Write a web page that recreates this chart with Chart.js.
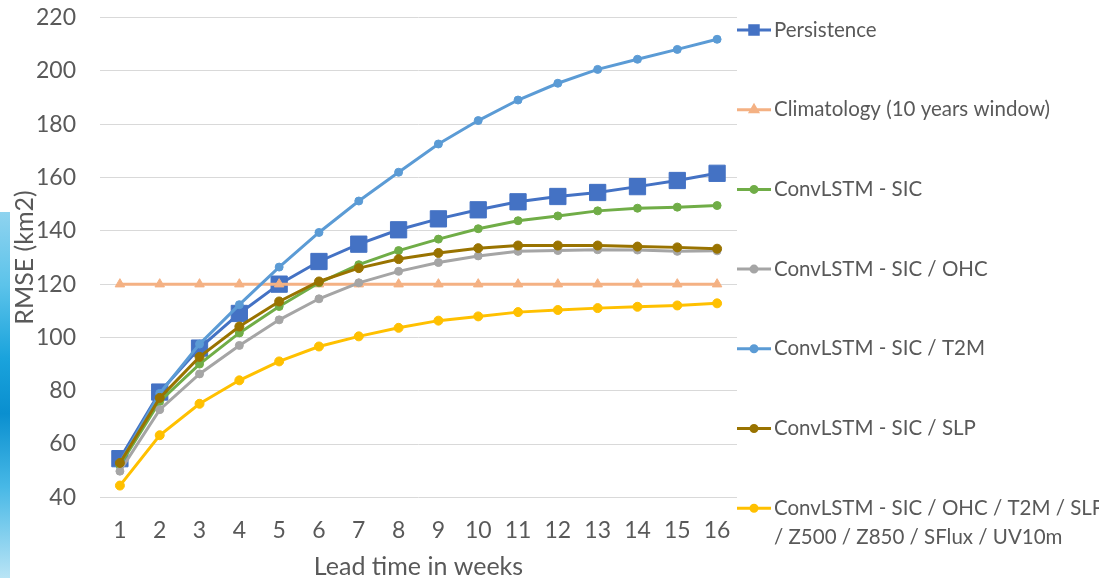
<!DOCTYPE html>
<html>
<head>
<meta charset="utf-8">
<script src="https://cdn.jsdelivr.net/npm/chart.js@4.4.0/dist/chart.umd.min.js"></script>
<style>
  html, body { margin: 0; padding: 0; background: #fff; }
  #wrap { position: relative; width: 1099px; height: 578px; overflow: hidden; }
  #strip {
    position: absolute; left: 0; top: 212px; width: 10px; height: 366px;
    background: linear-gradient(to bottom, #8fd3ef 0%, #5cc3ea 20%, #1aa3dc 40%, #0a8fcf 55%, #47b8e6 75%, #b9e4f5 100%);
  }
  canvas { position: absolute; left: 0; top: 0; }
</style>
</head>
<body>
<div id="wrap">
  <div id="strip"></div>
  <canvas id="rmseChart" width="1099" height="578"></canvas>
</div>
<script>
  // Datos
  const weeks = ['1', '2', '3', '4', '5', '6', '7', '8', '9', '10', '11', '12', '13', '14', '15', '16'];
  const yTicks = [40, 60, 80, 100, 120, 140, 160, 180, 200, 220];

  const persistence = [54.5, 79.5, 96, 109, 120, 128.5, 135, 140.4, 144.5, 147.9, 150.9, 152.9, 154.4, 156.6, 158.9, 161.6];
  const climatology = [120, 120, 120, 120, 120, 120, 120, 120, 120, 120, 120, 120, 120, 120, 120, 120];
  const sic = [52, 76, 90, 101.7, 111.6, 120.5, 127.3, 132.6, 136.9, 140.8, 143.8, 145.6, 147.5, 148.5, 148.9, 149.5];
  const sicOhc = [49.8, 72.9, 86.3, 97, 106.6, 114.5, 120.5, 124.8, 128.1, 130.6, 132.3, 132.6, 132.9, 132.8, 132.3, 132.5];
  const sicT2m = [53, 79, 97.5, 112.3, 126.4, 139.4, 151.2, 162, 172.6, 181.4, 189.1, 195.4, 200.6, 204.4, 208.1, 211.9];
  const sicSlp = [52.9, 77.3, 92.7, 104.1, 113.5, 121, 126, 129.4, 131.7, 133.5, 134.5, 134.5, 134.5, 134.1, 133.8, 133.3];
  const sicAll = [44.4, 63.3, 75.1, 83.9, 91, 96.6, 100.4, 103.6, 106.3, 107.9, 109.5, 110.3, 111, 111.5, 112, 112.8];

  const FONT = 'Lato, "Open Sans", sans-serif';
  const TEXT = '#595959';

  function serie(label, data, color, pointStyle, radius, order) {
    return {
      label: label,
      data: data,
      borderColor: color,
      backgroundColor: color,
      borderWidth: 3,
      pointStyle: pointStyle,
      pointRadius: radius,
      pointHoverRadius: radius,
      pointBorderWidth: 1,
      tension: 0,
      order: order
    };
  }

  // Leyenda a la derecha, dibujada a mano
  const rightLegend = {
    id: 'rightLegend',
    afterDraw(chart) {
      const ctx = chart.ctx;
      const x0 = chart.chartArea.right;
      ctx.save();
      ctx.font = '20.5px ' + FONT;
      ctx.fillStyle = TEXT;
      ctx.textBaseline = 'middle';
      chart.data.datasets.forEach((ds, i) => {
        const y = 30 + i * 79.7;
        ctx.strokeStyle = ds.borderColor;
        ctx.lineWidth = 3;
        ctx.beginPath();
        ctx.moveTo(x0, y);
        ctx.lineTo(x0 + 34, y);
        ctx.stroke();
        ctx.fillStyle = ds.borderColor;
        const r = ds.pointStyle === 'rect' ? 6 : (ds.pointStyle === 'triangle' ? 4 : 3);
        Chart.helpers.drawPoint(ctx, { pointStyle: ds.pointStyle, radius: r, rotation: 0, borderWidth: 1 }, x0 + 17, y);
        ctx.fillStyle = TEXT;
        ds.label.split('\n').forEach((line, k) => {
          ctx.fillText(line, x0 + 37, y + k * 29);
        });
      });
      ctx.restore();
    }
  };

  const ctx = document.getElementById('rmseChart').getContext('2d');
  new Chart(ctx, {
    type: 'line',
    data: {
      labels: weeks,
      datasets: [
        serie('Persistence', persistence, '#4472c4', 'rect', 11.5, 0),
        serie('Climatology (10 years window)', climatology, '#f4b183', 'triangle', 5.5, -1),
        serie('ConvLSTM - SIC', sic, '#70ad47', 'circle', 4, -2),
        serie('ConvLSTM - SIC / OHC', sicOhc, '#a5a5a5', 'circle', 4, -3),
        serie('ConvLSTM - SIC / T2M', sicT2m, '#5b9bd5', 'circle', 4, -4),
        serie('ConvLSTM - SIC / SLP', sicSlp, '#997300', 'circle', 4.5, -5),
        serie('ConvLSTM - SIC / OHC / T2M / SLP\n/ Z500 / Z850 / SFlux / UV10m', sicAll, '#ffc000', 'circle', 4.5, -6)
      ]
    },
    options: {
      responsive: false,
      animation: false,
      layout: { padding: { top: 17.7, right: 362, bottom: 0, left: 0 } },
      plugins: {
        legend: { display: false },
        tooltip: { enabled: false }
      },
      scales: {
        x: {
          offset: true,
          grid: { display: false },
          border: { display: false },
          ticks: { color: TEXT, font: { family: FONT, size: 23 }, padding: 11, maxRotation: 0 },
          title: { display: true, text: 'Lead time in weeks', color: TEXT, font: { family: FONT, size: 25 }, padding: { top: 0, bottom: -4 } },
          afterFit(scale) { scale.height = 80.7; scale.paddingLeft = 0; scale.paddingRight = 0; }
        },
        y: {
          min: 40,
          max: 220,
          afterBuildTicks(scale) { scale.ticks = yTicks.map(v => ({ value: v })); },
          grid: { color: '#d9d9d9', lineWidth: 1, drawTicks: false },
          border: { display: false },
          ticks: { color: TEXT, font: { family: FONT, size: 23 }, padding: 24 },
          title: { display: true, text: 'RMSE (km2)', color: TEXT, font: { family: FONT, size: 25 }, padding: { top: 10, bottom: 0 } },
          afterFit(scale) { scale.width = 100; scale.paddingTop = 0; scale.paddingBottom = 0; }
        }
      }
    },
    plugins: [rightLegend]
  });
</script>
</body>
</html>
